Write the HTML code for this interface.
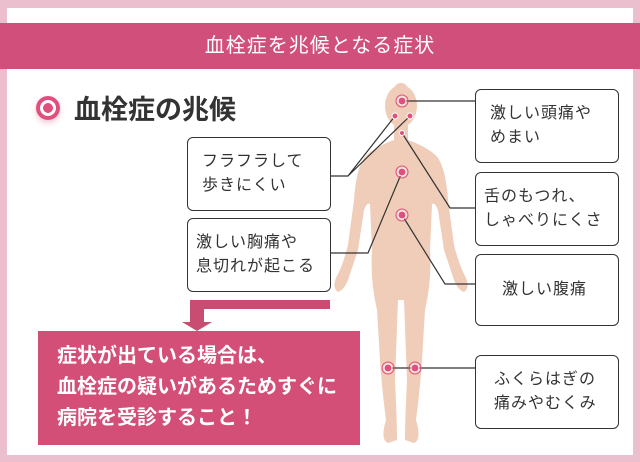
<!DOCTYPE html>
<html><head><meta charset="utf-8"><style>
body{margin:0;width:640px;height:462px;background:#ebbfcd;position:relative;overflow:hidden;font-family:"Liberation Sans","Noto Sans CJK JP",sans-serif}
.w{position:absolute;left:7px;top:8px;width:626px;height:447px;background:#fff}
.ban{position:absolute;left:0;top:23px;width:640px;height:46px;background:#d14f7b;color:#fff;font-size:20px;text-align:center;line-height:46px;letter-spacing:1px}
.t{position:absolute;left:36px;top:88px;font-size:27px;font-weight:bold;color:#333;display:flex;align-items:center}
.c{width:16px;height:16px;border-radius:50%;border:4px solid #e0507e;margin-right:14px;position:relative;box-shadow:0 3px 6px rgba(220,80,120,.3)}
.c:after{content:"";position:absolute;left:3px;top:3px;width:10px;height:10px;border-radius:50%;background:#e0507e}
.b{position:absolute;border:1.5px solid #333;border-radius:6px;background:#fff;font-size:16px;color:#333;line-height:24px;letter-spacing:1px;box-sizing:border-box;display:flex;align-items:center;padding-left:14px}
.p{position:absolute;left:38px;top:331px;width:322px;height:114px;background:#d34f77;color:#fff;font-size:20px;font-weight:bold;line-height:31px;padding:10px 0 0 19px;box-sizing:border-box;letter-spacing:0}
</style></head><body>
<div class="w"></div>
<div class="ban">血栓症を兆候となる症状</div>
<div class="t"><div class="c"></div>血栓症の兆候</div>
<svg style="position:absolute;left:0;top:0" width="640" height="462">
<g fill="#f0cdb8">
<ellipse cx="401" cy="106" rx="16" ry="21"/>
<circle cx="401" cy="90" r="7"/>
<path d="M394 122 L394 140 Q372 148 364 158 Q356 170 354 200 L348 245 Q343 265 336 278 Q332 288 338 292 Q344 290 348 280 L358 250 L364 210 Q367 202 370 204 L372 250 Q370 280 377 310 L380 360 Q382 390 386 420 Q380 440 388 443 L397 440 Q397 420 395 380 L398 300 L404 300 L407 380 Q405 420 405 440 L414 443 Q422 440 416 420 Q420 390 422 360 L425 310 Q432 280 430 250 L432 204 Q435 202 438 210 L444 250 L454 280 Q458 290 464 292 Q470 288 466 278 Q459 265 454 245 L448 200 Q446 170 438 158 Q430 148 408 140 L408 122 Z"/>
</g>
<g stroke="#333" stroke-width="1.2" fill="none">
<path d="M402 101 H475"/>
<path d="M395 116 L348 176 H331 M410 116 L348 176"/>
<path d="M402 133 L450 208 H475"/>
<path d="M402 172 L368 253 H331"/>
<path d="M402 215 L445 284 H475"/>
<path d="M388 368 H475"/>
</g>
<g fill="#e0507e" stroke="#fff" stroke-width="1">
<circle cx="402" cy="101" r="4"/><circle cx="395" cy="116" r="3"/><circle cx="410" cy="116" r="3"/><circle cx="402" cy="133" r="2.5"/>
<circle cx="402" cy="172" r="4"/><circle cx="402" cy="215" r="4"/><circle cx="388" cy="368" r="4"/><circle cx="415" cy="368" r="4"/>
</g>
<g fill="none" stroke="#e0507e" stroke-width="1"><circle cx="402" cy="101" r="6"/><circle cx="402" cy="172" r="6"/><circle cx="402" cy="215" r="6"/><circle cx="388" cy="368" r="6"/><circle cx="415" cy="368" r="6"/></g>
<path d="M188 300 H330 V309 H204 V322 H212 L197 331 L182 322 H190 V300Z" fill="#c94d72"/>
</svg>
<div class="b" style="left:187px;top:137px;width:144px;height:74px">フラフラして<br>歩きにくい</div>
<div class="b" style="left:187px;top:218px;width:144px;height:74px;padding-left:8px">激しい胸痛や<br>息切れが起こる</div>
<div class="b" style="left:475px;top:89px;width:144px;height:74px">激しい頭痛や<br>めまい</div>
<div class="b" style="left:475px;top:172px;width:144px;height:74px;padding-left:8px">舌のもつれ、<br>しゃべりにくさ</div>
<div class="b" style="left:475px;top:254px;width:144px;height:72px;padding-left:26px">激しい腹痛</div>
<div class="b" style="left:475px;top:355px;width:144px;height:74px;padding-left:18px">ふくらはぎの<br>痛みやむくみ</div>
<div class="p">症状が出ている場合は、<br>血栓症の疑いがあるためすぐに<br>病院を受診すること！</div>
</body></html>
